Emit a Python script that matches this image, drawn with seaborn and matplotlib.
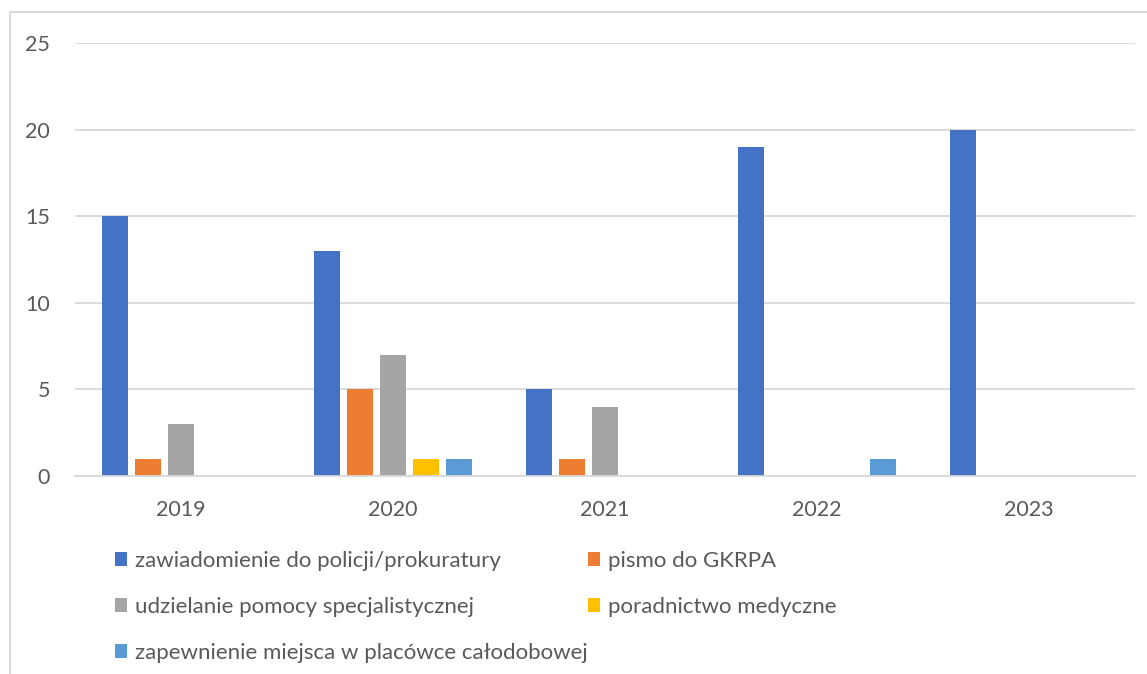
import pandas as pd
import matplotlib.pyplot as plt
import seaborn as sns
from matplotlib.patches import Patch, Rectangle

years = ['2019', '2020', '2021', '2022', '2023']
series = [
    'zawiadomienie do policji/prokuratury',
    'pismo do GKRPA',
    'udzielanie pomocy specjalistycznej',
    'poradnictwo medyczne',
    'zapewnienie miejsca w placówce całodobowej',
]
zawiadomienie = [15, 13, 5, 19, 20]
pismo = [1, 5, 1, 0, 0]
udzielanie = [3, 7, 4, 0, 0]
poradnictwo = [0, 1, 0, 0, 0]
zapewnienie = [0, 1, 0, 1, 0]
colors = ['#4472c4', '#ed7d31', '#a5a5a5', '#ffc000', '#5b9bd5']

rows = []
for name, vals in zip(series, [zawiadomienie, pismo, udzielanie, poradnictwo, zapewnienie]):
    for y, v in zip(years, vals):
        rows.append({'rok': y, 'seria': name, 'wartosc': v})
df = pd.DataFrame(rows)

sns.set_style('white')
plt.rcParams['font.family'] = ['Lato', 'DejaVu Sans']
text_col = '#595959'
grid_col = '#d9d9d9'

fig = plt.figure(figsize=(11.47, 6.74), dpi=100)
ax = fig.add_axes([75 / 1147, 1 - 476 / 674, 1060 / 1147, (476 - 43) / 674])

sns.barplot(data=df, x='rok', y='wartosc', hue='seria', order=years, hue_order=series,
            palette=colors, saturation=1, width=0.78, gap=0.2, linewidth=0,
            legend=False, ax=ax)

ax.set_ylim(0, 25)
ax.set_xlim(-0.5, 4.5)
ax.set_yticks([0, 5, 10, 15, 20, 25])
ax.yaxis.grid(True, color=grid_col, linewidth=1.3)
ax.set_axisbelow(True)
for s in ['top', 'right', 'left']:
    ax.spines[s].set_visible(False)
ax.spines['bottom'].set_color(grid_col)
ax.spines['bottom'].set_linewidth(1.3)
ax.set_xlabel('')
ax.set_ylabel('')
ax.tick_params(axis='both', length=0, labelsize=15.5, labelcolor=text_col)
ax.tick_params(axis='y', pad=18)
ax.tick_params(axis='x', pad=17)

handles = [Patch(facecolor=c, edgecolor='none') for c in colors]
leg_kw = dict(frameon=False, fontsize=16, labelcolor=text_col, handlelength=0.55,
              handleheight=0.55, handletextpad=0.35, labelspacing=1.17,
              borderpad=0, borderaxespad=0, loc='upper left')
leg1 = fig.legend([handles[0], handles[2], handles[4]], [series[0], series[2], series[4]],
                  bbox_to_anchor=(115 / 1147, 1 - 551 / 674), **leg_kw)
leg2 = fig.legend([handles[1], handles[3]], [series[1], series[3]],
                  bbox_to_anchor=(588 / 1147, 1 - 551 / 674), **leg_kw)

fig.patches.append(Rectangle((10 / 1147, -0.1), 1.2, 1 - 12 / 674 + 0.1, transform=fig.transFigure,
                             fill=False, edgecolor=grid_col, linewidth=1.5))

fig.savefig('out.png', dpi=100)
